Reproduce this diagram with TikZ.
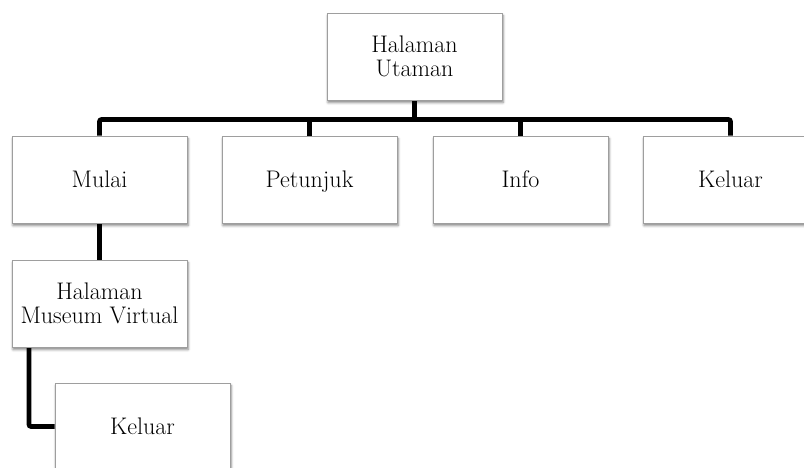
\documentclass[tikz,border=0pt]{standalone}
\usetikzlibrary{shadows.blur}
\pgfdeclarelayer{bg}
\pgfsetlayers{bg,main}
\begin{document}
\begin{tikzpicture}[x=1pt,y=-1pt,
  pagebox/.style={draw=black!38, line width=0.9pt, fill=white,
    minimum width=175pt, minimum height=87pt, inner sep=0pt, text depth=0pt,
    align=center, font=\fontsize{24}{24}\selectfont,
    blur shadow={shadow xshift=1pt, shadow yshift=-2.5pt, shadow blur radius=2.5pt, shadow opacity=50}},
  conn/.style={line width=4.6pt, black, rounded corners=2pt}]
\useasboundingbox (0,0) rectangle (804,467);
\clip (0,0) rectangle (804,467);
% nodes
\node[pagebox] (top) at (414.5,56.5) {Halaman\\Utaman};
\node[pagebox] (mulai) at (99.5,179.5) {Mulai};
\node[pagebox] (petunjuk) at (309.5,179.5) {Petunjuk};
\node[pagebox] (info) at (520.5,179.5) {Info};
\node[pagebox] (keluar1) at (730.5,179.5) {Keluar};
\node[pagebox] (hmv) at (99.5,303.5) {Halaman\\Museum Virtual};
\node[pagebox] (keluar2) at (142.5,426.5) {Keluar};
\coordinate (bus) at (0,119.5);
\coordinate (elbow) at (29,426.5);
% connectors, behind the boxes
\begin{pgfonlayer}{bg}
\draw[conn] (mulai.north) -- (mulai.north |- bus) -- (keluar1.north |- bus) -- (keluar1.north);
\draw[conn] (top.south) -- (top.south |- bus);
\draw[conn] (petunjuk.north |- bus) -- (petunjuk.north);
\draw[conn] (info.north |- bus) -- (info.north);
\draw[conn] (mulai.south) -- (hmv.north);
\draw[conn] (hmv.south -| elbow) -- (elbow) -- (keluar2.west);
\end{pgfonlayer}
\end{tikzpicture}
\end{document}
